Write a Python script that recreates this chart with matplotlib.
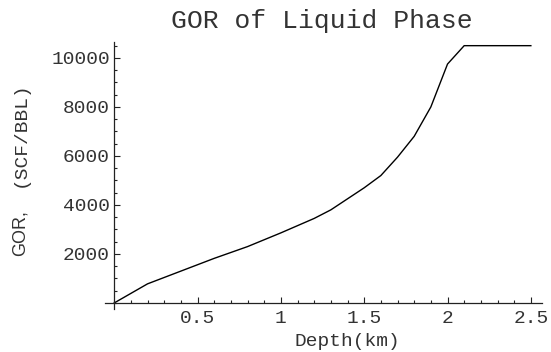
import numpy as np
import matplotlib
matplotlib.use("Agg")
import matplotlib.pyplot as plt
from matplotlib.ticker import MultipleLocator

depth_km = [0.0, 0.2, 0.4, 0.6, 0.8, 1.0, 1.2, 1.3, 1.4, 1.5, 1.6, 1.7, 1.8, 1.9, 2.0, 2.1, 2.5]
gor_scf_bbl = [0, 780, 1300, 1820, 2300, 2860, 3450, 3800, 4250, 4700, 5200, 5950, 6800, 8000, 9750, 10500, 10500]

mono = "Liberation Mono"
ink = "#222222"
txt = "#333333"

fig = plt.figure(figsize=(5.51, 3.52), dpi=100)
ax = fig.add_axes([0.1906, 0.1219, 0.7925, 0.7588])

ax.plot(depth_km, gor_scf_bbl, color="black", lw=1.0, solid_joinstyle="miter")

ax.set_xlim(-0.055, 2.565)
ax.set_ylim(-250, 10650)

# axes cross at the origin, no box
for side in ("top", "right"):
    ax.spines[side].set_visible(False)
ax.spines["left"].set_position(("data", 0))
ax.spines["bottom"].set_position(("data", 0))
for side in ("left", "bottom"):
    ax.spines[side].set_color(ink)
    ax.spines[side].set_linewidth(0.9)

ax.set_xticks([0.5, 1.0, 1.5, 2.0, 2.5])
ax.set_xticklabels(["0.5", "1", "1.5", "2", "2.5"])
ax.xaxis.set_minor_locator(MultipleLocator(0.1))
ax.set_yticks([2000, 4000, 6000, 8000, 10000])
ax.set_yticklabels(["2000", "4000", "6000", "8000", "10000"])
ax.yaxis.set_minor_locator(MultipleLocator(500))

ax.tick_params(which="both", direction="in", color=ink, width=0.8)
ax.tick_params(which="major", length=4.5)
ax.tick_params(which="minor", length=2.5)
ax.tick_params(axis="x", which="major", pad=5)
ax.tick_params(axis="y", which="major", pad=3)
for lab in ax.get_xticklabels() + ax.get_yticklabels():
    lab.set_fontfamily(mono)
    lab.set_fontsize(14)
    lab.set_color(txt)

fig.text(0.5835, 0.940, "GOR of Liquid Phase", family=mono, fontsize=19,
         color=txt, ha="center", va="center")
fig.text(347 / 551, 1 - 342 / 352, "Depth(km)", family=mono, fontsize=14,
         color=txt, ha="center", va="center")
fig.text(20 / 551, 0.339, "GOR,", family="Liberation Sans", fontsize=13,
         color=txt, ha="center", va="center", rotation=90)
fig.text(20 / 551, 0.618, "(SCF/BBL)", family=mono, fontsize=14,
         color=txt, ha="center", va="center", rotation=90)

plt.savefig("out.png", dpi=100)
